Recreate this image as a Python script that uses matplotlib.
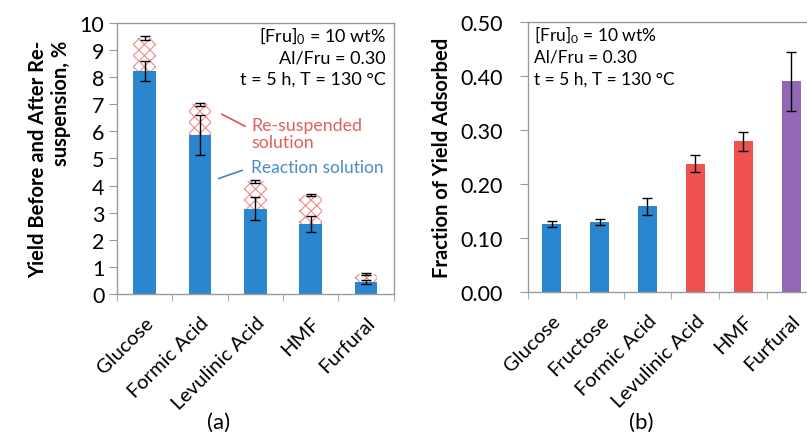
import matplotlib
matplotlib.use('Agg')
import matplotlib.pyplot as plt
import numpy as np

plt.rcParams['font.family'] = ['Lato', 'DejaVu Sans']
plt.rcParams['mathtext.default'] = 'regular'
plt.rcParams['hatch.linewidth'] = 0.8

# panel (a): yield before / after re-suspension
cats_a = ['Glucose', 'Formic Acid', 'Levulinic Acid', 'HMF', 'Furfural']
reaction = [8.22, 5.88, 3.14, 2.58, 0.43]
reaction_err = [0.38, 0.74, 0.42, 0.28, 0.08]
total = [9.44, 7.00, 4.16, 3.64, 0.74]
total_err = [0.08, 0.06, 0.06, 0.04, 0.04]

# panel (b): fraction of yield adsorbed
cats_b = ['Glucose', 'Fructose', 'Formic Acid', 'Levulinic Acid', 'HMF', 'Furfural']
frac = [0.126, 0.130, 0.159, 0.238, 0.279, 0.390]
frac_err = [0.006, 0.005, 0.016, 0.016, 0.018, 0.054]
frac_colors = ['#2986CF', '#2986CF', '#2986CF', '#EE5350', '#EE5350', '#9467B4']

blue = '#2986CF'
frame = '#9a9a9a'
box_lines = [r'[Fru]$_0$ = 10 wt%', 'Al/Fru = 0.30', 't = 5 h, T = 130 °C']

fig = plt.figure(figsize=(8.07, 4.35), dpi=100)
ax1 = fig.add_axes([0.145, 0.322, 0.343, 0.623])
ax2 = fig.add_axes([0.654, 0.326, 0.356, 0.621])


def style(ax, n, ypad):
    for s in ax.spines.values():
        s.set_color(frame)
        s.set_linewidth(1.0)
    ax.set_xlim(-0.5, n - 0.5)
    ax.set_xticks(range(n))
    ax.set_xticks(np.arange(n + 1) - 0.5, minor=True)
    ax.tick_params(axis='x', which='major', length=0, pad=14)
    ax.tick_params(axis='x', which='minor', length=5, color=frame, direction='out')
    ax.tick_params(axis='y', length=6, color=frame, pad=ypad, labelsize=15.5)


# (a)
x1 = np.arange(len(cats_a))
ax1.bar(x1, reaction, width=0.41, color=blue, zorder=2)
ax1.bar(x1, np.array(total) - np.array(reaction), width=0.41, bottom=reaction,
        color='white', edgecolor='#F08A8A', hatch='xxx', linewidth=0, zorder=2)
ax1.errorbar(x1, reaction, yerr=reaction_err, fmt='none', ecolor='black',
             elinewidth=1, capsize=3.5, capthick=1, zorder=3)
ax1.errorbar(x1, total, yerr=total_err, fmt='none', ecolor='black',
             elinewidth=1, capsize=3.5, capthick=1, zorder=3)
style(ax1, len(cats_a), 3)
ax1.set_ylim(0, 10)
ax1.set_yticks(range(0, 11))
ax1.set_xticklabels(cats_a, rotation=45, ha='right', rotation_mode='anchor', fontsize=14.5)
ax1.set_ylabel('Yield Before and After Re-\nsuspension, %', fontsize=14.5,
               fontweight='bold', multialignment='right', labelpad=6)

ax1.plot([1.395, 1.81], [6.63, 6.19], color='#E05050', lw=1.2, zorder=4)
ax1.text(1.92, 5.93, 'Re-suspended\nsolution', color='#E06060', fontsize=12.8,
         ha='left', va='center', linespacing=1.1)
ax1.plot([1.34, 1.76], [4.26, 4.56], color='#3F86C8', lw=1.2, zorder=4)
ax1.text(1.92, 4.70, 'Reaction solution', color='#4A8CC8', fontsize=12.5,
         ha='left', va='center')
for yy, t in zip([0.956, 0.871, 0.793], box_lines):
    ax1.text(0.971, yy, t, transform=ax1.transAxes, ha='right', va='center', fontsize=13)

# (b)
x2 = np.arange(len(cats_b))
ax2.bar(x2, frac, width=0.4, color=frac_colors, zorder=2)
ax2.errorbar(x2, frac, yerr=frac_err, fmt='none', ecolor='black',
             elinewidth=1, capsize=3.5, capthick=1, zorder=3)
style(ax2, len(cats_b), 12)
ax2.set_ylim(0, 0.5)
ax2.set_yticks(np.arange(0, 0.51, 0.1))
ax2.set_yticklabels(['%.2f' % v for v in np.arange(0, 0.51, 0.1)])
ax2.set_xticklabels(cats_b, rotation=45, ha='right', rotation_mode='anchor', fontsize=14.5)
ax2.set_ylabel('Fraction of Yield Adsorbed', fontsize=14.5, fontweight='bold', labelpad=6)
for yy, t in zip([0.955, 0.874, 0.789], box_lines):
    ax2.text(0.021, yy, t, transform=ax2.transAxes, ha='left', va='center', fontsize=12.5)

fig.text(219 / 807, 1 - 423 / 435, '(a)', ha='center', va='center', fontsize=16)
fig.text(641 / 807, 1 - 423 / 435, '(b)', ha='center', va='center', fontsize=16)

fig.savefig('out.png', dpi=100)
